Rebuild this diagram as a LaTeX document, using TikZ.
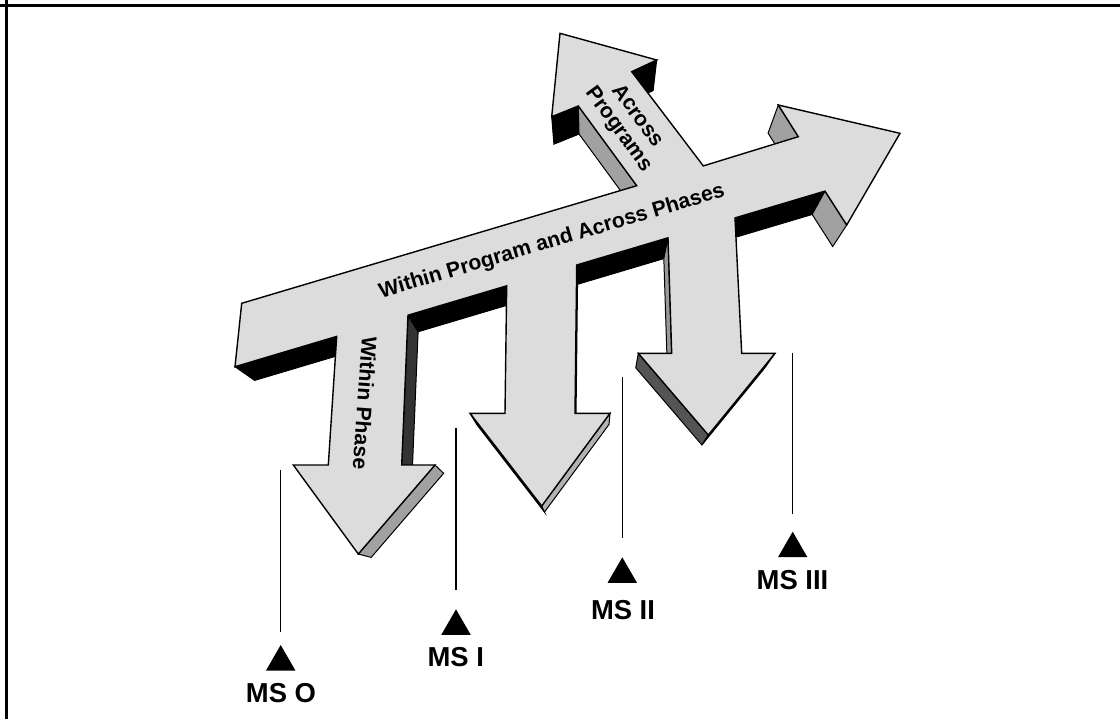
\documentclass[tikz,border=0pt]{standalone}
\usepackage{fontspec}
\setmainfont{Liberation Sans}
\usetikzlibrary{calc, shapes.geometric}
\definecolor{arrowgray}{HTML}{DCDCDC}
\tikzstyle{face} = [fill=arrowgray, draw=black, line width=0.7pt]
\tikzstyle{side} = [draw=black, line width=0.5pt]
\tikzstyle{caption} = [font=\fontsize{10.6}{11.5}\selectfont\bfseries, inner sep=0pt]
\tikzstyle{milestone} = [font=\fontsize{13.7}{15}\selectfont\bfseries, inner sep=0pt]
\tikzstyle{tri} = [regular polygon, regular polygon sides=3, fill=black, minimum size=17pt, inner sep=0pt, outer sep=0pt]
\tikzstyle{stem} = [line width=0.6pt]
\tikzstyle{frame} = [line width=1.3pt]
\newcommand{\extrude}{0.055}
\newcommand{\sideface}[3]{\filldraw [side, fill=#3] (#1) -- (#2) -- ($(#2)!\extrude!(vp)$) -- ($(#1)!\extrude!(vp)$) -- cycle;}

\begin{document}
\begin{tikzpicture}[x=0.5pt, y=-0.5pt]

\useasboundingbox (0,0) rectangle (1120,719);
\coordinate (c0) at (0,5.3);
\coordinate (c1) at (1120,5.3);
\coordinate (c2) at (6.5,0);
\coordinate (c3) at (6.5,719);
\draw [frame] (c0) -- (c1);
\draw [frame] (c2) -- (c3);

\coordinate (vp) at (592,616);
\coordinate (p1) at (241.7,303.3);
\coordinate (p2) at (235,366.7);
\coordinate (p3) at (336.7,336.4);
\coordinate (p4) at (328.3,465);
\coordinate (p5) at (293.3,465);
\coordinate (p6) at (358.3,554);
\coordinate (p7) at (435,465);
\coordinate (p8) at (401.7,465);
\coordinate (p9) at (408,315.2);
\coordinate (p10) at (506.7,285.8);
\coordinate (p11) at (505,413.3);
\coordinate (p12) at (470,413.3);
\coordinate (p13) at (541.7,506);
\coordinate (p14) at (610,413.3);
\coordinate (p15) at (575,413.3);
\coordinate (p16) at (576.7,265);
\coordinate (p17) at (668,237.8);
\coordinate (p18) at (671.7,353.3);
\coordinate (p19) at (638.3,353.3);
\coordinate (p20) at (708.3,435);
\coordinate (p21) at (775,353.3);
\coordinate (p22) at (741.7,353.3);
\coordinate (p23) at (735,217.9);
\coordinate (p24) at (825,191.1);
\coordinate (p25) at (846.7,225);
\coordinate (p26) at (900,133.3);
\coordinate (p27) at (778.3,105);
\coordinate (p28) at (798.3,136.7);
\coordinate (p29) at (703.3,165.9);
\coordinate (p30) at (631.7,71.7);
\coordinate (p31) at (656.7,60);
\coordinate (p32) at (560,33.3);
\coordinate (p33) at (551.7,116.7);
\coordinate (p34) at (578.3,106);
\coordinate (p35) at (636.7,185.7);

\sideface{p2}{p3}{black}
\sideface{p6}{p7}{black!37}
\sideface{p8}{p9}{black!80}
\sideface{p9}{p10}{black}
\sideface{p12}{p13}{black}
\sideface{p13}{p14}{black!30}
\sideface{p15}{p16}{black!37}
\sideface{p16}{p17}{black}
\sideface{p17}{p18}{black!40}
\sideface{p19}{p20}{black!67}
\sideface{p20}{p21}{black!37}
\sideface{p23}{p24}{black}
\sideface{p24}{p25}{black!37}
\sideface{p27}{p28}{black!37}
\sideface{p30}{p31}{black}
\sideface{p33}{p34}{black}
\sideface{p34}{p35}{black!37}

\filldraw [face] (p1) -- (p2) -- (p3) -- (p4) -- (p5) -- (p6) -- (p7) -- (p8) -- (p9)
  -- (p10) -- (p11) -- (p12) -- (p13) -- (p14) -- (p15) -- (p16) -- (p17) -- (p18)
  -- (p19) -- (p20) -- (p21) -- (p22) -- (p23) -- (p24) -- (p25) -- (p26) -- (p27)
  -- (p28) -- (p29) -- (p30) -- (p31) -- (p32) -- (p33) -- (p34) -- (p35) -- cycle;

\node (phases) [caption, rotate=16.5] at (552,242) {Within Program and Across Phases};
\node (phase) [caption, rotate=-94] at (365,403) {Within Phase};
\node (programs) [caption, rotate=-53.8, align=center] at (628,123) {Across\\Programs};

\node (t0) [tri] at (280.7,662) {};
\node (ms0) [milestone] at (281,693.3) {MS O};
\coordinate (s0) at (280.7,470);
\coordinate (e0) at (280.7,631.7);
\draw [stem] (s0) -- (e0);

\node (t1) [tri] at (456,626.3) {};
\node (ms1) [milestone] at (455.8,657.3) {MS I};
\coordinate (s1) at (456,428.3);
\coordinate (e1) at (456,590);
\draw [stem] (s1) -- (e1);

\node (t2) [tri] at (622.3,574.3) {};
\node (ms2) [milestone] at (623,610) {MS II};
\coordinate (s2) at (622.3,377.3);
\coordinate (e2) at (622.3,538.3);
\draw [stem] (s2) -- (e2);

\node (t3) [tri] at (792.7,548.7) {};
\node (ms3) [milestone] at (792.5,580) {MS III};
\coordinate (s3) at (792.7,352.7);
\coordinate (e3) at (792.7,514.3);
\draw [stem] (s3) -- (e3);

\end{tikzpicture}
\end{document}
